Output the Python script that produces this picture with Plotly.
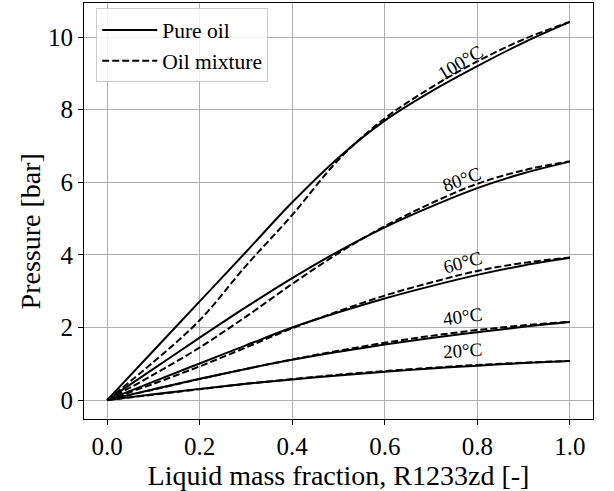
import plotly.graph_objects as go

# Liquid mass fraction of R1233zd
fraction = [0.0, 0.1, 0.2, 0.3, 0.4, 0.5, 0.6, 0.7, 0.8, 0.9, 1.0]

# Pressure [bar] for pure oil
pure_20 = [0.0, 0.16, 0.31, 0.45, 0.57, 0.68, 0.78, 0.87, 0.95, 1.02, 1.08]
pure_40 = [0.0, 0.30, 0.59, 0.86, 1.11, 1.33, 1.53, 1.71, 1.87, 2.02, 2.15]
pure_60 = [0.0, 0.51, 1.01, 1.51, 2.00, 2.42, 2.80, 3.14, 3.45, 3.71, 3.92]
pure_80 = [0.0, 0.86, 1.72, 2.56, 3.36, 4.10, 4.76, 5.33, 5.84, 6.25, 6.57]
pure_100 = [0.0, 1.36, 2.72, 4.08, 5.45, 6.68, 7.70, 8.50, 9.20, 9.85, 10.42]

# Pressure [bar] for the oil mixture
mix_20 = [0.0, 0.15, 0.30, 0.45, 0.58, 0.70, 0.80, 0.89, 0.97, 1.03, 1.08]
mix_40 = [0.0, 0.29, 0.58, 0.86, 1.12, 1.36, 1.58, 1.77, 1.93, 2.06, 2.16]
mix_60 = [0.0, 0.45, 0.93, 1.45, 1.98, 2.45, 2.88, 3.24, 3.56, 3.78, 3.93]
mix_80 = [0.0, 0.70, 1.45, 2.30, 3.20, 4.05, 4.79, 5.42, 5.96, 6.33, 6.58]
mix_100 = [0.0, 1.05, 2.20, 3.70, 5.10, 6.62, 7.76, 8.61, 9.33, 9.94, 10.42]

temps = ["20°C", "40°C", "60°C", "80°C", "100°C"]
pure_sets = [pure_20, pure_40, pure_60, pure_80, pure_100]
mix_sets = [mix_20, mix_40, mix_60, mix_80, mix_100]

# Curve label placement (fraction, pressure, angle)
label_x = [0.767, 0.767, 0.767, 0.765, 0.763]
label_y = [1.38, 2.30, 3.80, 6.08, 9.30]
label_angle = [-4, -8, -15, -20, -31]

FONT = "Liberation Serif, Times New Roman, serif"

fig = go.Figure()

for i, (p, m) in enumerate(zip(pure_sets, mix_sets)):
    fig.add_trace(go.Scatter(
        x=fraction, y=p, mode="lines", line_shape="spline",
        line=dict(color="black", width=2),
        name="Pure oil", legendgroup="pure", showlegend=(i == 0)))
    fig.add_trace(go.Scatter(
        x=fraction, y=m, mode="lines", line_shape="spline",
        line=dict(color="black", width=2, dash="7px,3px"),
        name="Oil mixture", legendgroup="mix", showlegend=(i == 0)))

for t, lx, ly, ang in zip(temps, label_x, label_y, label_angle):
    fig.add_annotation(x=lx, y=ly, text=t, showarrow=False, textangle=ang,
                       font=dict(family=FONT, size=19, color="black"))

# Vertical axis title
fig.add_annotation(x=-0.106, xref="paper", y=4.65, yref="y",
                   xanchor="center", yanchor="middle",
                   text="Pressure [bar]", textangle=-90, showarrow=False,
                   font=dict(family=FONT, size=28, color="black"))

axis_common = dict(
    showline=True, linecolor="black", linewidth=1, mirror=True,
    showgrid=True, gridcolor="#b0b0b0", gridwidth=1,
    ticks="outside", ticklen=5, tickcolor="black", zeroline=False,
    tickfont=dict(family=FONT, size=25, color="black"),
)

fig.update_xaxes(range=[-0.05, 1.05], tickvals=[0, 0.2, 0.4, 0.6, 0.8, 1.0],
                 ticktext=["0.0", "0.2", "0.4", "0.6", "0.8", "1.0"],
                 title=dict(text="Liquid mass fraction, R1233zd [-]",
                            font=dict(family=FONT, size=28, color="black"),
                            standoff=0),
                 **axis_common)
fig.update_yaxes(range=[-0.52, 10.94], tickvals=[0, 2, 4, 6, 8, 10],
                 **axis_common)

fig.update_layout(
    width=614, height=491,
    margin=dict(l=84, r=21, t=3, b=72),
    paper_bgcolor="white", plot_bgcolor="white",
    showlegend=True,
    legend=dict(x=0.024, y=0.987, xanchor="left", yanchor="top",
                bgcolor="rgba(255,255,255,0.85)", bordercolor="#cccccc",
                borderwidth=1, font=dict(family=FONT, size=21.5, color="black"),
                tracegroupgap=0, itemwidth=55),
)

fig.write_html("out.html")
